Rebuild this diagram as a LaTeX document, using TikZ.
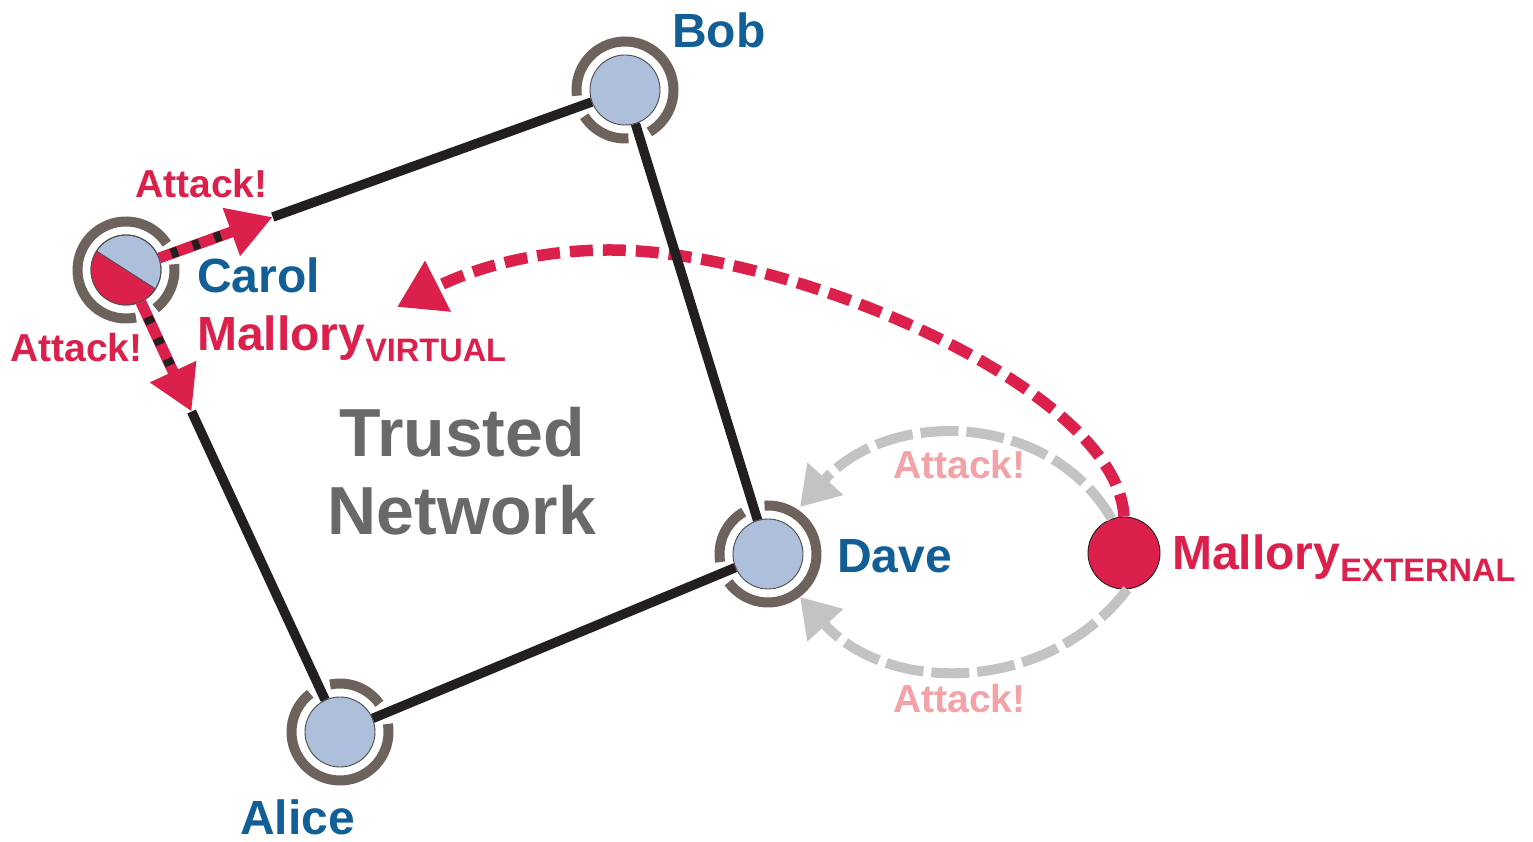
\documentclass[tikz,border=0pt]{standalone}
\usepackage{fontspec}
\setmainfont{Liberation Sans}
\usetikzlibrary{arrows.meta,calc}
\definecolor{nameblue}{RGB}{18,94,150}
\definecolor{attackred}{RGB}{220,32,76}
\definecolor{attackpink}{RGB}{243,162,167}
\definecolor{arrowgray}{RGB}{195,195,195}
\definecolor{ringc}{RGB}{110,98,92}
\definecolor{nodefill}{RGB}{173,191,218}
\definecolor{edgeblack}{RGB}{35,31,32}
\definecolor{trustgray}{RGB}{105,105,105}
\newcommand{\ringarc}[3]{\draw[ringarc] (#1) ++(#2:48.5pt) arc[start angle=#2, end angle=#3, radius=48.5pt];}
\tikzset{
  peer/.style={circle, minimum size=70pt, inner sep=0pt, fill=nodefill, draw=edgeblack!80, line width=0.9pt},
  extnode/.style={circle, minimum size=72pt, inner sep=0pt, fill=attackred, draw=edgeblack, line width=0.9pt},
  ringarc/.style={draw=ringc, line width=10pt},
  edge/.style={draw=edgeblack, line width=9.5pt},
  redseg/.style={draw=attackred, line width=11pt, -{Triangle[length=44pt,width=48pt]}},
  stripes/.style={draw=edgeblack, line width=10pt, dash pattern=on 7pt off 16pt},
  redcurve/.style={draw=attackred, line width=11.5pt, dash pattern=on 23pt off 10pt, -{Triangle[length=46pt,width=54pt]}},
  graycurve/.style={draw=arrowgray, line width=10pt, dash pattern=on 38pt off 8pt, -{Triangle[length=38pt,width=46pt]}},
  lbl/.style={inner sep=0pt, anchor=base west, font=\bfseries\fontsize{48}{50}\selectfont},
  atk/.style={inner sep=0pt, anchor=base west, font=\bfseries\fontsize{39}{41}\selectfont},
  trust/.style={inner sep=0pt, anchor=base, text=trustgray, font=\bfseries\fontsize{68}{70}\selectfont}
}
\begin{document}
\begin{tikzpicture}[x=1pt,y=1pt]
\useasboundingbox (0,0) rectangle (1533,842);
\fill[white] (0,0) rectangle (1533,842);

% nodes
\node[peer] (bob) at (625,752) {};
\node[peer] (carol) at (126,572) {};
\node[peer] (dave) at (768,288) {};
\node[peer] (alice) at (340,110) {};
\node[extnode] (mext) at (1124,289) {};

% Carol split (red lower-left half)
\fill[attackred] ($(carol)+(147.3:35pt)$) arc[start angle=147.3, end angle=327.3, radius=35pt] -- cycle;
\draw[edgeblack!80, line width=0.9pt] ($(carol)+(147.3:35pt)$) -- ($(carol)+(327.3:35pt)$);
\draw[edgeblack!80, line width=0.9pt] (carol) circle[radius=35pt];

% rings
\ringarc{bob}{212.8}{274.1}
\ringarc{bob}{300.1}{546.8}
\ringarc{carol}{32.8}{281.85}
\ringarc{carol}{307.85}{366.8}
\ringarc{dave}{120.1}{189.6}
\ringarc{dave}{215.6}{454.1}
\ringarc{alice}{35.6}{101.85}
\ringarc{alice}{127.85}{369.6}

% gray attack arrows from external Mallory to Dave
\coordinate (gtipU) at (800,335);
\coordinate (gtipL) at (800,245);
\draw[graycurve] (mext.110) .. controls (1050,430) and (890,435) .. (gtipU);
\draw[graycurve] (mext.-85) .. controls (1050,150) and (890,145) .. (gtipL);

% red dashed curve from external Mallory to virtual Mallory
\coordinate (apex) at (610,592);
\coordinate (vtip) at (397,535);
\draw[redcurve] (mext.north) .. controls (1117,454) and (790,592) .. (apex) .. controls (530,592) and (468,571) .. (vtip);

% edges
\coordinate (tipB) at ($(carol)!156pt!(bob)$);
\coordinate (tipA) at ($(carol)!156pt!(alice)$);
\draw[edge] (bob) -- (dave);
\draw[edge] (dave) -- (alice);
\draw[edge] (tipB) -- (bob);
\draw[edge] (tipA) -- (alice);

% attack segments from Carol
\draw[redseg] (carol) -- (tipB);
\draw[redseg] (carol) -- (tipA);
\draw[stripes] ($(carol)!48pt!(bob)$) -- ($(carol)!106pt!(bob)$);
\draw[stripes] ($(carol)!52pt!(alice)$) -- ($(carol)!108pt!(alice)$);

% labels
\node[lbl, text=nameblue] (tbob) at (672,794) {Bob};
\node[lbl, text=nameblue] (tcarol) at (197,549) {Carol};
\node[lbl, text=attackred] (tmv) at (197,491) {Mallory\raisebox{-11pt}{\fontsize{32.5}{34}\selectfont VIRTUAL}};
\node[lbl, text=nameblue] (tdave) at (837,269) {Dave};
\node[lbl, text=nameblue] (talice) at (240,7) {Alice};
\node[lbl, text=attackred] (tme) at (1172,272) {Mallory\raisebox{-12pt}{\fontsize{32.5}{34}\selectfont EXTERNAL}};
\node[atk, text=attackred] (a1) at (135,644) {Attack!};
\node[atk, text=attackred] (a2) at (10,480) {Attack!};
\node[atk, text=attackpink] (a3) at (893,363) {Attack!};
\node[atk, text=attackpink] (a4) at (893,129) {Attack!};
\node[trust] (t1) at (462,385) {Trusted};
\node[trust] (t2) at (462,307) {Network};
\end{tikzpicture}
\end{document}
